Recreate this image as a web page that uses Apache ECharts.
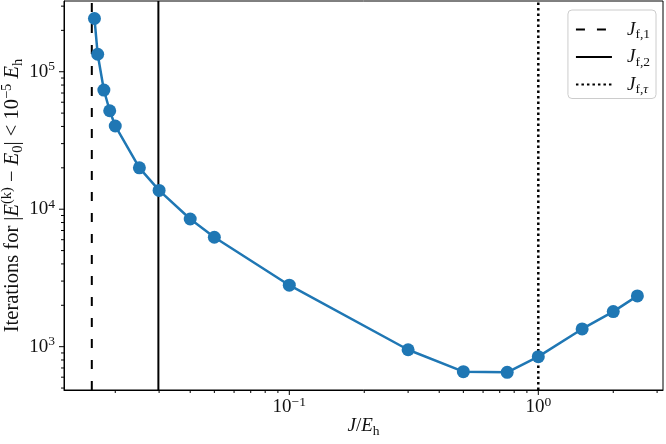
<!DOCTYPE html>
<html>
<head>
<meta charset="utf-8">
<script src="https://cdn.jsdelivr.net/npm/echarts@6/dist/echarts.min.js"></script>
<style>
  html, body { margin: 0; padding: 0; background: #fff; }
  #chart { width: 666px; height: 444px; }
</style>
</head>
<body>
<div id="chart"></div>
<script>
// coupling strength J/E_h and iterations needed
const couplings = [0.0165, 0.017, 0.018, 0.019, 0.02, 0.025, 0.03, 0.04, 0.05, 0.1, 0.3, 0.5, 0.75, 1.0, 1.5, 2.0, 2.5]
const iterations = [244000, 134000, 73600, 52000, 40300, 20000, 13700, 8490, 6250, 2800, 950, 658, 651, 846, 1346, 1800, 2340]

// reference lines
const jf1 = 0.0161
const jf2 = 0.0298
const jfTau = 1.0

// axis ranges
const X_MIN = 0.01245, X_MAX = 3.168
const Y_MIN = 484, Y_MAX = 327000

// tick values
const xMajorTicks = [0.1, 1]
const xMinorTicks = [0.02, 0.03, 0.04, 0.05, 0.06, 0.07, 0.08, 0.09, 0.2, 0.3, 0.4, 0.5, 0.6, 0.7, 0.8, 0.9, 2, 3]
const yMajorTicks = [1000, 10000, 100000]
const yMinorTicks = [500, 600, 700, 800, 900, 2000, 3000, 4000, 5000, 6000, 7000, 8000, 9000,
  20000, 30000, 40000, 50000, 60000, 70000, 80000, 90000, 200000, 300000]

const FONT = 'Liberation Serif'
const FS = 19, SS = 13.5, INK = '#111'
const chart = echarts.init(document.getElementById('chart'))

function powLabel(v) {
  const e = Math.log10(v)
  if (Math.abs(e - Math.round(e)) > 1e-6) return ''
  const n = Math.round(e)
  return '10{sup|' + (n < 0 ? '\u2212' + (-n) : n) + '}'
}

const supStyle = { fontSize: SS, fontFamily: FONT, verticalAlign: 'top', lineHeight: 14, color: INK }
const subStyle = { fontSize: SS, fontFamily: FONT, verticalAlign: 'bottom', lineHeight: 15, color: INK }
const itStyle = { fontFamily: FONT, fontStyle: 'italic', fontSize: FS, color: INK, lineHeight: 24 }
const rmStyle = { fontFamily: FONT, fontSize: FS, color: INK, lineHeight: 24 }

function xTick(params, api) {
  const p = api.coord([api.value(0), Y_MIN])
  return { type: 'line', shape: { x1: p[0], y1: p[1], x2: p[0], y2: p[1] + api.value(1) },
    style: { stroke: '#000', lineWidth: 1 } }
}
function yTick(params, api) {
  const p = api.coord([X_MIN, api.value(0)])
  return { type: 'line', shape: { x1: p[0], y1: p[1], x2: p[0] - api.value(1), y2: p[1] },
    style: { stroke: '#000', lineWidth: 1 } }
}

function vline(name, x, type, width) {
  return {
    name, type: 'line', symbol: 'none', z: 1,
    data: [[x, Y_MIN], [x, Y_MAX]],
    lineStyle: { color: '#000', width, type },
    itemStyle: { color: '#000' }
  }
}

const legendNames = { jf1: '{j|J}{s|f,1}', jf2: '{j|J}{s|f,2}', jft: '{j|J}{s|f,}{t|\u03c4}' }

chart.setOption({
  animation: false,
  grid: { left: 64, right: 3, top: 1, bottom: 54, outerBoundsMode: 'none', containLabel: false,
    show: true, borderColor: '#000', borderWidth: 1 },
  legend: {
    data: ['jf1', 'jf2', 'jft'],
    orient: 'vertical', right: 10, top: 10,
    itemWidth: 36, itemHeight: 14, itemGap: 6,
    padding: [10, 6, 2, 7],
    backgroundColor: 'rgba(255,255,255,0.8)', borderColor: '#ccc', borderWidth: 1, borderRadius: 4,
    itemStyle: { opacity: 0 },
    formatter: n => legendNames[n],
    textStyle: {
      padding: [0, 0, 0, 10],
      rich: {
        j: itStyle,
        s: subStyle,
        t: Object.assign({}, subStyle, { fontStyle: 'italic' })
      }
    }
  },
  xAxis: {
    type: 'log', logBase: 10, min: X_MIN, max: X_MAX,
    name: '{i|J}{n|/}{i|E}{s|h}', nameLocation: 'middle', nameGap: 24, nameMoveOverlap: false,
    nameTextStyle: { rich: { i: itStyle, n: rmStyle, s: subStyle } },
    axisLine: { lineStyle: { color: '#000', width: 1 } },
    axisTick: { show: false },
    minorTick: { show: false },
    splitLine: { show: false },
    axisLabel: {
      margin: 5, formatter: powLabel, showMinLabel: false, showMaxLabel: false,
      fontFamily: FONT, fontSize: FS, color: INK, lineHeight: 24, rich: { sup: supStyle }
    }
  },
  yAxis: {
    type: 'log', logBase: 10, min: Y_MIN, max: Y_MAX,
    name: 'Iterations for |{i|E}{sup|(k)} \u2212 {i|E}{sub|0}| < 10{sup|\u22125} {i|E}{sub|h}',
    nameLocation: 'middle', nameRotate: 90, nameGap: 38, nameMoveOverlap: false,
    nameTextStyle: {
      fontFamily: FONT, fontSize: 20.5, color: INK, lineHeight: 26,
      rich: {
        i: Object.assign({}, itStyle, { fontSize: 20.5, lineHeight: 26 }),
        sup: Object.assign({}, supStyle, { fontSize: 14.5 }),
        sub: Object.assign({}, subStyle, { fontSize: 14.5 })
      }
    },
    axisLine: { lineStyle: { color: '#000', width: 1 } },
    axisTick: { show: false },
    minorTick: { show: false },
    splitLine: { show: false },
    axisLabel: {
      margin: 9, formatter: powLabel, showMinLabel: false, showMaxLabel: false,
      fontFamily: FONT, fontSize: FS, color: INK, lineHeight: 24, rich: { sup: supStyle }
    }
  },
  series: [
    vline('jf1', jf1, [9, 12], 2),
    vline('jf2', jf2, 'solid', 2),
    vline('jft', jfTau, [2.5, 3], 2.5),
    {
      name: 'iterations', type: 'line', z: 5,
      data: couplings.map((c, i) => [c, iterations[i]]),
      symbol: 'circle', symbolSize: 13, showSymbol: true,
      lineStyle: { color: '#1f77b4', width: 2.5 },
      itemStyle: { color: '#1f77b4' }
    },
    {
      type: 'custom', silent: true, clip: false, z: 6, renderItem: xTick, encode: { x: 0 },
      data: xMajorTicks.map(v => [v, 5]).concat(xMinorTicks.map(v => [v, 3]))
    },
    {
      type: 'custom', silent: true, clip: false, z: 6, renderItem: yTick, encode: { y: 0 },
      data: yMajorTicks.map(v => [v, 5]).concat(yMinorTicks.map(v => [v, 3]))
    }
  ]
})
</script>
</body>
</html>
